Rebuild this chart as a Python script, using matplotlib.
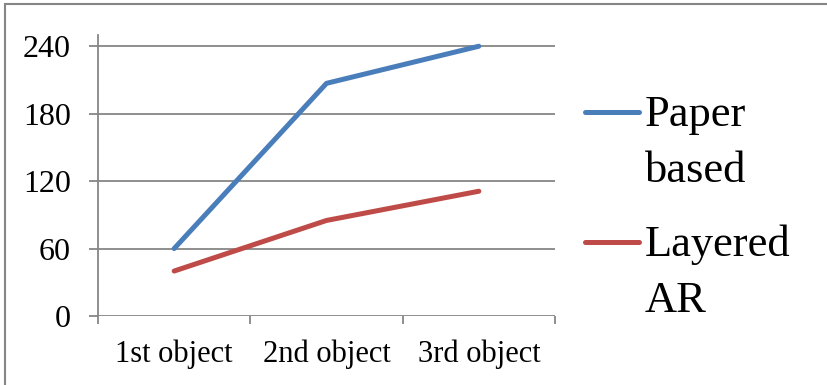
import matplotlib
matplotlib.use("Agg")
import matplotlib.pyplot as plt
from matplotlib.patches import Rectangle

categories = ["1st object", "2nd object", "3rd object"]
paper_based = [60, 207, 240]
layered_ar = [40, 85, 111]
series_labels = ["Paper\nbased", "Layered\nAR"]
y_ticks = [0, 60, 120, 180, 240]

plt.rcParams['font.family'] = ['Liberation Serif', 'DejaVu Serif']

W, H = 827, 385
fig = plt.figure(figsize=(W / 100, H / 100), dpi=100)
ax = fig.add_axes([98 / W, (H - 316) / H, (555 - 98) / W, (316 - 35) / H])

grid_c = '#868686'
x = list(range(len(categories)))
l1, = ax.plot(x, paper_based, color='#4A7EBB', lw=3.6, solid_capstyle='round', solid_joinstyle='round', zorder=3)
l2, = ax.plot(x, layered_ar, color='#BE4B48', lw=3.6, solid_capstyle='round', solid_joinstyle='round', zorder=3)

ax.set_xlim(-0.5, len(categories) - 0.5)
ax.set_ylim(0, 250)
ax.set_yticks(y_ticks)
ax.set_yticklabels([str(v) for v in y_ticks])
ax.yaxis.grid(True, color=grid_c, lw=1.3)
ax.set_axisbelow(True)

# category boundaries as major ticks, labels on minor ticks
ax.set_xticks([i - 0.5 for i in range(len(categories) + 1)])
ax.set_xticklabels([''] * (len(categories) + 1))
ax.set_xticks(x, minor=True)
ax.set_xticklabels(categories, minor=True)
ax.tick_params(axis='x', which='major', direction='out', length=6, width=1.3, color=grid_c)
ax.tick_params(axis='x', which='minor', length=0, labelsize=22, pad=17)
ax.tick_params(axis='y', direction='out', length=6.5, width=1.3, color=grid_c, labelsize=23, pad=13)

for s in ['top', 'right', 'bottom']:
    ax.spines[s].set_visible(False)
ax.spines['left'].set_color(grid_c)
ax.spines['left'].set_linewidth(1.3)

leg = fig.legend([l1, l2], series_labels, loc='upper left',
                 bbox_to_anchor=(585 / W, 1 - 95 / H), frameon=False,
                 prop={'family': 'Liberation Serif', 'size': 32},
                 handlelength=1.22, handletextpad=0.12, handleheight=0.9,
                 labelspacing=0.77, borderpad=0, borderaxespad=0)
for t in leg.get_texts():
    t.set_linespacing(1.5)
for col in leg._legend_handle_box.get_children():
    for row in col.get_children():
        row.align = 'top'

fig.patches.append(Rectangle((5 / W, -0.1), 1.2, 1.1 - 4 / H, transform=fig.transFigure,
                             fill=False, edgecolor='#868686', lw=1.5))

fig.savefig('out.png', dpi=100)
